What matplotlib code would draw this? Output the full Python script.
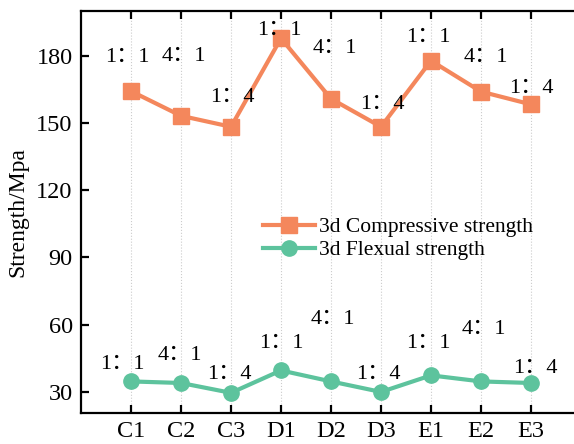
import matplotlib as mpl
import matplotlib.pyplot as plt
mpl.use('Agg')

groups = ["C1", "C2", "C3", "D1", "D2", "D3", "E1", "E2", "E3"]
ratios = ["1：1", "4：1", "1：4", "1：1", "4：1", "1：4", "1：1", "4：1", "1：4"]
compressive = [164.2, 153.2, 148.3, 187.8, 160.8, 148.3, 177.8, 164.0, 158.3]
flexural = [34.6, 33.9, 29.5, 39.5, 34.6, 29.9, 37.3, 34.6, 33.9]

# label offsets from each point (pixels)
comp_off = [(-4, 34), (3, 59), (1, 29), (-2, 8), (4, 50), (1, 22), (-3, 23), (5, 34), (0, 16)]
flex_off = [(-9, 17), (-1, 28), (-2, 18), (0, 27), (2, 62), (-3, 18), (-3, 32), (3, 52), (4, 15)]

orange = '#F4875C'
green = '#5DC39D'
serif = ['Liberation Serif', 'Noto Sans CJK SC']

plt.rcParams['font.family'] = serif

fig = plt.figure(figsize=(5.74, 4.44), dpi=100)
ax = fig.add_axes([81 / 574, 31 / 444, 500 / 574, 402 / 444])

x = list(range(len(groups)))
ax.plot(x, compressive, color=orange, lw=3, marker='s', ms=11,
        label='3d Compressive strength')
ax.plot(x, flexural, color=green, lw=3, marker='o', ms=11,
        label='3d Flexual strength')

px2pt = 72 / fig.dpi
for i in x:
    ax.annotate(ratios[i], (i, compressive[i]),
                xytext=(comp_off[i][0] * px2pt, comp_off[i][1] * px2pt),
                textcoords='offset points', ha='center', va='center',
                fontsize=16, family=serif)
    ax.annotate(ratios[i], (i, flexural[i]),
                xytext=(flex_off[i][0] * px2pt, flex_off[i][1] * px2pt),
                textcoords='offset points', ha='center', va='center',
                fontsize=16, family=serif)

ax.set_xlim(-1, 9)
ax.set_ylim(20.5, 200)
ax.set_xticks(x)
ax.set_xticklabels(groups)
ax.set_yticks([30, 60, 90, 120, 150, 180])
ax.xaxis.grid(True, color='#cccccc', ls=':', lw=0.8)
ax.set_axisbelow(True)

for s in ax.spines.values():
    s.set_linewidth(1.6)
ax.spines['right'].set_visible(False)
ax.tick_params(direction='in', width=1.6, length=6, labelsize=17.5, pad=6,
               top=True)
ax.set_ylabel('Strength/Mpa', fontsize=17, labelpad=6)

fig.legend(loc='upper left', bbox_to_anchor=(263 / 574, 1 - 217 / 444),
           frameon=False, borderpad=0, borderaxespad=0,
           handlelength=2.4, handletextpad=0.2, labelspacing=0.15,
           prop={'family': serif, 'size': 15.5})

fig.savefig('out.png', dpi=100)
